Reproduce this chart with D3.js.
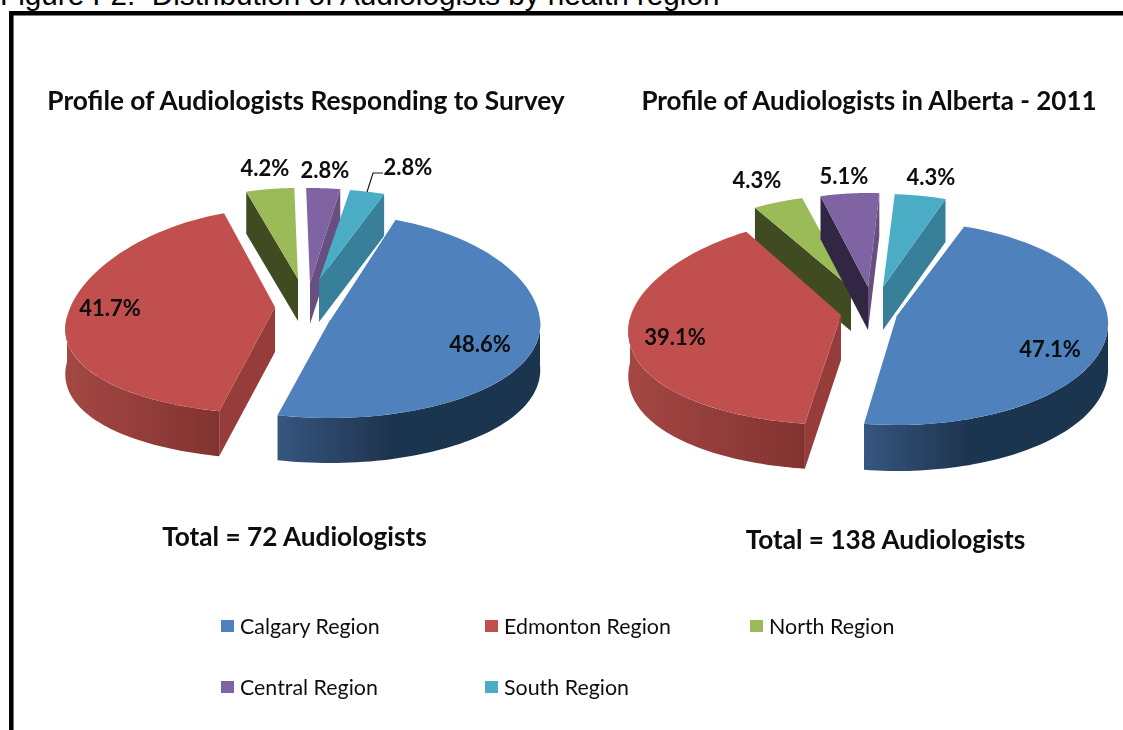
<!DOCTYPE html>
<html><head><meta charset="utf-8">
<script src="https://cdnjs.cloudflare.com/ajax/libs/d3/7.8.5/d3.min.js"></script>
<style>html,body{margin:0;padding:0;background:#fff;overflow:hidden}svg{display:block}</style>
</head><body><svg id="c" width="1123" height="730"></svg>
<script>
// ---- data ----
const regions = ["Calgary Region","Edmonton Region","North Region","Central Region","South Region"];
const surveyValues = [48.6,41.7,4.2,2.8,2.8];
const albertaValues = [47.1,39.1,4.3,5.1,4.3];
const chartTitles = ["Profile of Audiologists Responding to Survey","Profile of Audiologists in Alberta - 2011"];
const chartTotals = ["Total = 72 Audiologists","Total = 138 Audiologists"];
const figureCaption = "Figure F2:  Distribution of Audiologists by health region";

// ---- style ----
const topColors = ["#4f81bd","#c0504d","#9bbb59","#8064a2","#4bacc6"];
const wallStops = [["#36567f","#1f3450"],["#a44743","#823331"],["#3f4c22","#3f4c22"],["#322845","#322845"],["#38809a","#38809a"]];
const cutStart = ["#1f3450","#963e3b","#3f4c22","#322845","#38809a"];
const cutEnd = ["#1f3450","#963e3b","#3f4c22","#67507f","#38809a"];
const rotation = 19 * Math.PI / 180;
const paintOrder = [2,3,4,1,0];

// ---- per-slice projection of the tilted, exploded pie ----
const surveyLayout = {
  slices:[
    {ax:330,ay:320,cx:330,cy:320,rx:210,k:.05,ryB:106,ryF:98,depth:45},
    {ax:275,ay:307,cx:275,cy:317,rx:208,k:.13,ryB:108,ryF:97,depth:45},
    {ax:298,ay:279,cx:298,cy:279,rx:185,k:0,ryB:91,ryF:91,depth:42},
    {ax:310,ay:283,cx:310,cy:283,rx:195,k:0,ryB:95,ryF:95,depth:41},
    {ax:319,ay:280,cx:319,cy:280,rx:200,k:0,ryB:91,ryF:91,depth:42}],
  labels:[[480,343],[110,307],[265,167],[325,169],[408,166]],
  titleX:306,titleY:100,totalX:294.5,totalY:536,
  leader:[[367,192],[373,173],[383,173]]
};
const albertaLayout = {
  slices:[
    {ax:897,ay:315,cx:897,cy:320,rx:211,k:.03,ryB:99,ryF:105,depth:46},
    {ax:841,ay:315,cx:841,cy:318,rx:211,k:.13,ryB:100,ryF:107,depth:45},
    {ax:851,ay:288,cx:851,cy:288,rx:190,k:0,ryB:93,ryF:93,depth:43},
    {ax:868,ay:287,cx:868,cy:287,rx:185,k:0,ryB:94,ryF:94,depth:43},
    {ax:883,ay:287,cx:883,cy:287,rx:192,k:0,ryB:93,ryF:93,depth:43}],
  labels:[[1050,348],[675,336],[757,179],[844,175],[931,176]],
  titleX:869,titleY:100,totalX:885.5,totalY:539,
  leader:null
};
const legendCols = [221,485,750], legendRows = [626,687];
const FONT = "Lato, 'Open Sans', sans-serif";

const svg = d3.select("#c");
const defs = svg.append("defs");
defs.append("filter").attr("id","soft").append("feGaussianBlur").attr("stdDeviation",0.45);

// caption + frame
svg.append("text").attr("x",0).attr("y",5).attr("font-family","'Liberation Sans',Arial,sans-serif")
  .attr("font-size",29.7).attr("fill","#000").style("white-space","pre").text(figureCaption);
svg.append("path").attr("d","M11.3,730V13.3H1123").attr("fill","none").attr("stroke","#000").attr("stroke-width",4.5);

const root = svg.append("g").attr("filter","url(#soft)");
const line = d3.line();

function drawChart(values, layout, idx){
  const arcs = d3.pie().sort(null).startAngle(rotation).endAngle(rotation+2*Math.PI)(values);
  const g = root.append("g");

  function point(s,t,drop){
    const c = Math.cos(t);
    return [s.cx + Math.sin(t)*s.rx*(1 - s.k*c),
            s.cy - c*(c>0 ? s.ryB : s.ryF) + (drop||0)];
  }
  function arcPoints(s,a,b,drop){
    return d3.range(0,61).map(i=>point(s,a+(b-a)*i/60,drop));
  }

  paintOrder.forEach(i=>{
    const s = layout.slices[i], a = arcs[i].startAngle, b = arcs[i].endAngle;
    const apexTop = [s.ax,s.ay], apexBot = [s.ax,s.ay+s.depth];
    // cut faces visible to the viewer
    if (Math.sin(a) < -0.05){
      const p = point(s,a,0), q = point(s,a,s.depth);
      g.append("path").attr("d",line([apexTop,p,q,apexBot])+"Z").attr("fill",cutStart[i]);
    }
    if (Math.sin(b) > 0.05){
      const p = point(s,b,0), q = point(s,b,s.depth);
      g.append("path").attr("d",line([apexTop,p,q,apexBot])+"Z").attr("fill",cutEnd[i]);
    }
    // outer wall (front half of the rim only)
    const lo = Math.max(a,Math.PI/2), hi = Math.min(b,1.5*Math.PI);
    if (hi > lo){
      const upper = arcPoints(s,lo,hi,0), lower = arcPoints(s,hi,lo,s.depth);
      const xs = upper.map(p=>p[0]);
      const id = "wall"+idx+"_"+i;
      const grad = defs.append("linearGradient").attr("id",id).attr("gradientUnits","userSpaceOnUse")
        .attr("x1",d3.min(xs)).attr("x2",d3.max(xs)).attr("y1",0).attr("y2",0);
      if (i===0){
        grad.append("stop").attr("offset","0").attr("stop-color",wallStops[i][0]);
        grad.append("stop").attr("offset","0.42").attr("stop-color",wallStops[i][1]);
        grad.append("stop").attr("offset","1").attr("stop-color",wallStops[i][1]);
      } else {
        grad.append("stop").attr("offset","0").attr("stop-color",wallStops[i][0]);
        grad.append("stop").attr("offset","1").attr("stop-color",wallStops[i][1]);
      }
      g.append("path").attr("d",line(upper.concat(lower))+"Z").attr("fill",`url(#${id})`);
    }
    // top face
    g.append("path").attr("d",line([apexTop].concat(arcPoints(s,a,b,0)))+"Z").attr("fill",topColors[i]);
    // thin light seam along the blue slice's upper cut edge
    if (i===0) g.append("path").attr("d",line([point(s,a,0),apexTop])).attr("fill","none").attr("stroke","#fff").attr("stroke-width",1);
  });

  if (layout.leader) g.append("path").attr("d",line(layout.leader)).attr("fill","none").attr("stroke","#111").attr("stroke-width",1.1);

  g.selectAll("text.lab").data(values).join("text").attr("class","lab")
    .attr("x",(d,i)=>layout.labels[i][0]).attr("y",(d,i)=>layout.labels[i][1])
    .attr("text-anchor","middle").attr("dominant-baseline","central")
    .attr("font-family",FONT).attr("font-weight",700).attr("font-size",22).attr("fill","#0a0a0a")
    .text(d=>d.toFixed(1)+"%");

  g.append("text").attr("x",layout.titleX).attr("y",layout.titleY).attr("text-anchor","middle")
    .attr("dominant-baseline","central").attr("font-family",FONT).attr("font-weight",700)
    .attr("font-size",idx===0?26.3:26).attr("fill","#0a0a0a").text(chartTitles[idx]);
  g.append("text").attr("x",layout.totalX).attr("y",layout.totalY).attr("text-anchor","middle")
    .attr("dominant-baseline","central").attr("font-family",FONT).attr("font-weight",700)
    .attr("font-size",26.2).attr("fill","#0a0a0a").text(chartTotals[idx]);
}
drawChart(surveyValues,surveyLayout,0);
drawChart(albertaValues,albertaLayout,1);

// legend
const leg = root.append("g").selectAll("g").data(regions).join("g")
  .attr("transform",(d,i)=>`translate(${legendCols[i%3]},${legendRows[Math.floor(i/3)]})`);
leg.append("rect").attr("x",0).attr("y",-6).attr("width",13).attr("height",12).attr("fill",(d,i)=>topColors[i]);
leg.append("text").attr("x",19).attr("y",0).attr("dominant-baseline","central")
  .attr("font-family",FONT).attr("font-size",21.4).attr("fill","#111").text(d=>d);
</script></body></html>
